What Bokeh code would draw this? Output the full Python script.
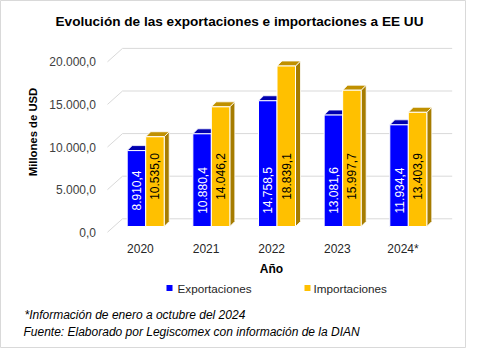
import numpy as np
from bokeh.plotting import figure
from bokeh.models import Range1d
from bokeh.core.properties import value
from bokeh.embed import file_html
from bokeh.resources import INLINE

# ---- data ----
categories = ["2020", "2021", "2022", "2023", "2024*"]
exportaciones = [8910.4, 10880.4, 14758.5, 13081.6, 11934.4]
importaciones = [10535.0, 14046.2, 18839.1, 15997.7, 13403.9]
y_ticks = [0, 5000, 10000, 15000, 20000]
title_text = "Evolución de las exportaciones e importaciones a EE UU"
y_title = "Millones de USD"
x_title = "Año"
series_names = ["Exportaciones", "Importaciones"]
notes = ["*Información  de enero a octubre  del 2024",
         "Fuente: Elaborado por Legiscomex con información de la DIAN"]

def es_fmt(v):
    s = f"{v:,.1f}"
    return s.replace(",", "X").replace(".", ",").replace("X", ".")

# ---- geometry (pixels -> data units) ----
CAT_PX = 65.65      # px per category
CX0 = 145.2         # x of first group centre
K = 0.00852         # px per value unit
BASE = 226.0        # y of bar base
W, H = 466, 348

def X(px):
    return (px - CX0) / CAT_PX

def Y(py):
    return (BASE - py) / K

def dxp(px):
    return px / CAT_PX

def dyp(px):
    return px / K

FONT = value("Liberation Sans")
BLUE, BLUE_TOP = "#0000FF", "#0000B0"
GOLD, GOLD_TOP, GOLD_SIDE = "#FFC000", "#C09000", "#A67C00"
GRID = "#D9D9D9"

p = figure(width=W, height=H, output_backend="svg", toolbar_location=None,
           x_range=Range1d(X(0), X(W)), y_range=Range1d(Y(H), Y(0)),
           x_axis_type=None, y_axis_type=None, title=None, min_border=0)
p.outline_line_color = GRID
p.background_fill_color = "white"
p.border_fill_color = "white"

# ---- back wall gridlines ----
front_off = Y(231.7)
back_off = Y(218.3)
gx, gy = [], []
for t in y_ticks:
    gx.append([X(107), X(122), X(451.7)])
    gy.append([t + front_off, t + back_off, t + back_off])
p.multi_line(gx, gy, line_color=GRID, line_width=1)

# ---- tick labels ----
p.text(x=[X(95.5)] * len(y_ticks), y=[t + front_off for t in y_ticks],
       text=[es_fmt(t) for t in y_ticks], text_align="right", text_baseline="middle",
       text_font=FONT, text_font_size="12px", text_color="#404040")

# ---- bars ----
BW = dxp(18.5)
DX = dxp(5)
DY = dyp(5)
idx = np.arange(len(categories))

def bar_faces(lefts, tops):
    front_x, front_y, top_x, top_y, side_x, side_y = [], [], [], [], [], []
    for l, t in zip(lefts, tops):
        r = l + BW
        front_x.append([l, r, r, l]); front_y.append([0, 0, t, t])
        top_x.append([l, r, r + DX, l + DX]); top_y.append([t, t, t + DY, t + DY])
        side_x.append([r, r + DX, r + DX, r]); side_y.append([0, DY, t + DY, t])
    return front_x, front_y, top_x, top_y, side_x, side_y

for vals, lefts, cf, ct, cs in [
        (exportaciones, idx - BW, BLUE, BLUE_TOP, BLUE_TOP),
        (importaciones, idx * 1.0, GOLD, GOLD_TOP, GOLD_SIDE)]:
    fx, fy, tx, ty, sx, sy = bar_faces(lefts, vals)
    p.patches(sx, sy, fill_color=cs, line_color="white", line_width=0.8)
    p.patches(tx, ty, fill_color=ct, line_color="white", line_width=0.8)
    p.patches(fx, fy, fill_color=cf, line_color="white", line_width=1)

# ---- data labels ----
p.text(x=idx - BW / 2, y=[Y(190)] * len(idx), text=[es_fmt(v) for v in exportaciones],
       angle=np.pi / 2, text_align="center", text_baseline="middle",
       text_font=FONT, text_font_size="12px", text_color="white")
p.text(x=idx + BW / 2, y=[Y(176)] * len(idx), text=[es_fmt(v) for v in importaciones],
       angle=np.pi / 2, text_align="center", text_baseline="middle",
       text_font=FONT, text_font_size="12px", text_color="black")

# ---- category labels ----
p.text(x=idx + dxp(-5.3), y=[Y(248)] * len(idx), text=categories,
       text_align="center", text_baseline="middle",
       text_font=FONT, text_font_size="12px", text_color="#262626")

# ---- titles ----
p.text(x=[X(239)], y=[Y(21)], text=[title_text], text_align="center", text_baseline="middle",
       text_font=FONT, text_font_size="13.6px", text_font_style="bold", text_color="black")
p.text(x=[X(32)], y=[Y(131.5)], text=[y_title], angle=np.pi / 2, text_align="center",
       text_baseline="middle", text_font=FONT, text_font_size="11.3px",
       text_font_style="bold", text_color="black")
p.text(x=[X(271)], y=[Y(268)], text=[x_title], text_align="center", text_baseline="middle",
       text_font=FONT, text_font_size="12px", text_font_style="bold", text_color="black")

# ---- legend ----
sq = [(166, BLUE), (304, GOLD)]
p.quad(left=[X(s) for s, _ in sq], right=[X(s + 6) for s, _ in sq],
       bottom=[Y(290.5)] * 2, top=[Y(284.5)] * 2, fill_color=[c for _, c in sq], line_color=None)
p.text(x=[X(177), X(313)], y=[Y(287.5)] * 2, text=series_names, text_align="left",
       text_baseline="middle", text_font=FONT, text_font_size="11.7px", text_color="#262626")

# ---- notes ----
p.text(x=[X(24), X(23)], y=[Y(314), Y(331)], text=notes, text_align="left",
       text_baseline="middle", text_font=FONT, text_font_size="12px",
       text_font_style="italic", text_color="black")

open("out.html", "w").write(file_html(p, INLINE))
